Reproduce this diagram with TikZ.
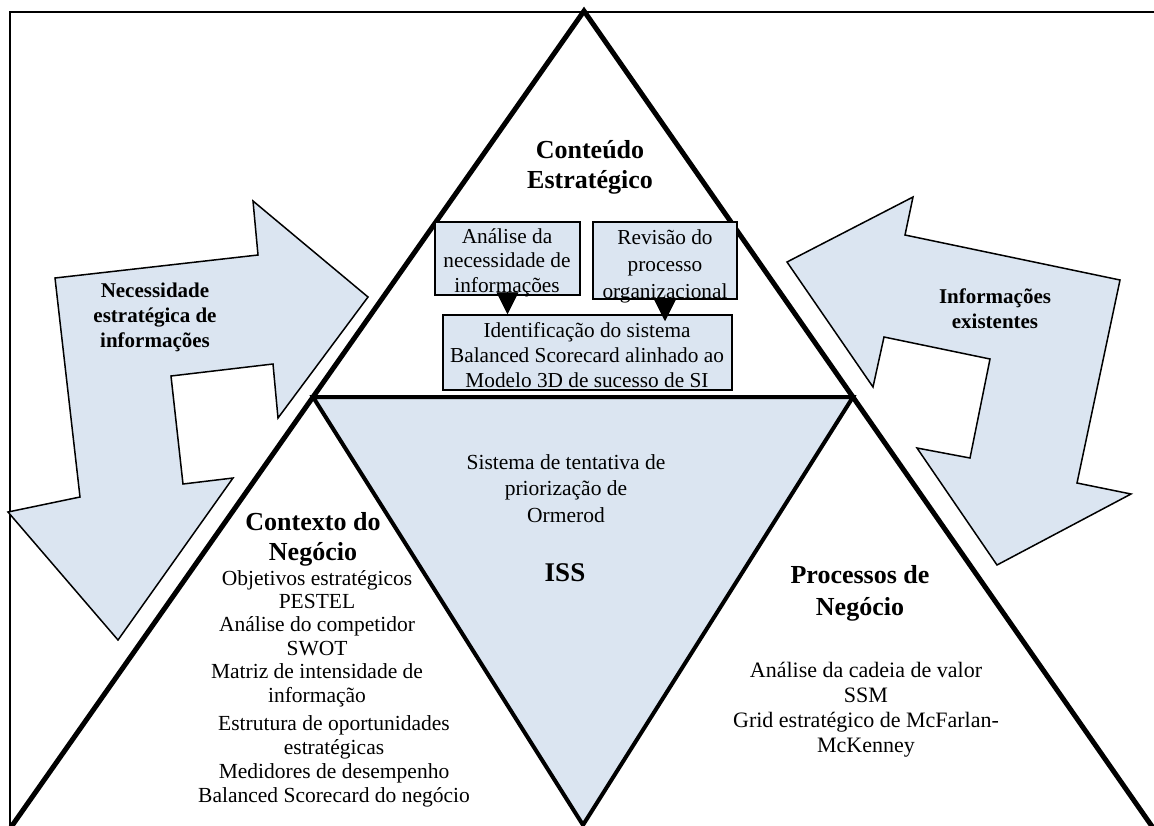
\documentclass[tikz,border=0pt]{standalone}
\usepackage{fontspec}
\setmainfont{Liberation Serif}
\usetikzlibrary{arrows.meta}
\definecolor{lb}{RGB}{219,229,241}
\tikzset{
  bigline/.style={line width=5pt, line join=miter},
  isstri/.style={fill=lb, draw, line width=4pt, line join=miter},
  boxnode/.style={draw, fill=lb, line width=1.5pt, inner sep=0pt},
  boxtext/.style={align=center, inner sep=0pt, anchor=base, font=\fontsize{21.3}{24.5}\selectfont},
  arrowshape/.style={draw, fill=lb, line width=1.5pt, line join=miter},
  titletext/.style={font=\bfseries\fontsize{26}{30}\selectfont, align=center, inner sep=0pt, anchor=base},
  itemtext/.style={font=\fontsize{21.5}{24}\selectfont, align=center, inner sep=0pt, anchor=base},
  arrowtext/.style={font=\bfseries\fontsize{21}{25}\selectfont, align=center, inner sep=0pt, anchor=base},
  flow/.style={line width=0.8pt, -{Triangle[length=22pt,width=22pt]}}
}
\begin{document}
\begin{tikzpicture}[x=1pt,y=-1pt]
\useasboundingbox (0,0) rectangle (1154,825);
\clip (0,0) rectangle (1154,825);
\fill[white] (0,0) rectangle (1154,825);

% frame
\draw[line width=2pt] (9.5,840) -- (9.5,11.5) -- (1170,11.5);

% left U-turn arrow
\draw[arrowshape] (368,297) -- (278,418) -- (273,364) -- (171,376) -- (183,484)
  -- (233,478) -- (118,640) -- (8,512) -- (80,497) -- (55,278) -- (258,255)
  -- (253,201) -- cycle;
% right U-turn arrow
\draw[arrowshape] (787,262) -- (913,197) -- (905,235) -- (1120,280) -- (1077,483)
  -- (1131,494) -- (997,565) -- (917,448) -- (970,458) -- (990,359) -- (884,337)
  -- (873,387) -- cycle;

% triangles
\coordinate (apex) at (584,11);
\coordinate (tl) at (313,397);
\coordinate (tr) at (853,397);
\coordinate (bot) at (583,825);
\coordinate (bl) at (5.5,835);
\coordinate (br) at (1158,835);
\draw[isstri] (tl) -- (tr) -- (bot) -- cycle;
\draw[bigline] (bl) -- (apex) -- (br);

% boxes
\node[boxnode, minimum width=145pt, minimum height=73pt] (b1) at (507.5,258.5) {};
\node[boxnode, minimum width=144pt, minimum height=77pt] (b2) at (665,260.5) {};
\node[boxnode, minimum width=289pt, minimum height=75pt] (b3) at (587.5,352.5) {};
\node[boxtext] (b1t) at (507,292) {Análise da\\necessidade de\\informações};
\node[boxtext, font=\fontsize{21.3}{27}\selectfont] (b2t) at (665,298) {Revisão do\\processo\\organizacional};
\node[boxtext, font=\fontsize{21.3}{25}\selectfont] (b3t) at (587,387) {Identificação do sistema\\Balanced Scorecard alinhado ao\\Modelo 3D de sucesso de SI};
\draw[flow] (b1.south) -- (b1.south |- b3.north);
\draw[flow, shorten >=-7pt] (b2.south) -- (b2.south |- b3.north);

% texts
\node[titletext] (ce) at (590,188) {Conteúdo\\Estratégico};
\node[titletext] (cn) at (313,560) {Contexto do\\Negócio};
\node[itemtext, font=\fontsize{21.5}{23.4}\selectfont] (cn1) at (317,702)
  {Objetivos estratégicos\\PESTEL\\Análise do competidor\\SWOT\\Matriz de intensidade de\\informação};
\node[itemtext] (cn2) at (334,802)
  {Estrutura de oportunidades\\estratégicas\\Medidores de desempenho\\Balanced Scorecard do negócio};
\node[itemtext, font=\fontsize{21.5}{26.5}\selectfont] (iss1) at (566,522)
  {Sistema de tentativa de\\priorização de\\Ormerod};
\node[titletext, font=\bfseries\fontsize{27}{30}\selectfont] (iss) at (565,581) {ISS};
\node[titletext, font=\bfseries\fontsize{26}{32}\selectfont] (pn) at (860,615) {Processos de\\Negócio};
\node[itemtext, font=\fontsize{22}{25}\selectfont] (pn1) at (866,752)
  {Análise da cadeia de valor\\SSM\\Grid estratégico de McFarlan-\\McKenney};
\node[arrowtext] (nec) at (155,347) {Necessidade\\estratégica de\\informações};
\node[arrowtext] (inf) at (995,328) {Informações\\existentes};
\end{tikzpicture}
\end{document}
